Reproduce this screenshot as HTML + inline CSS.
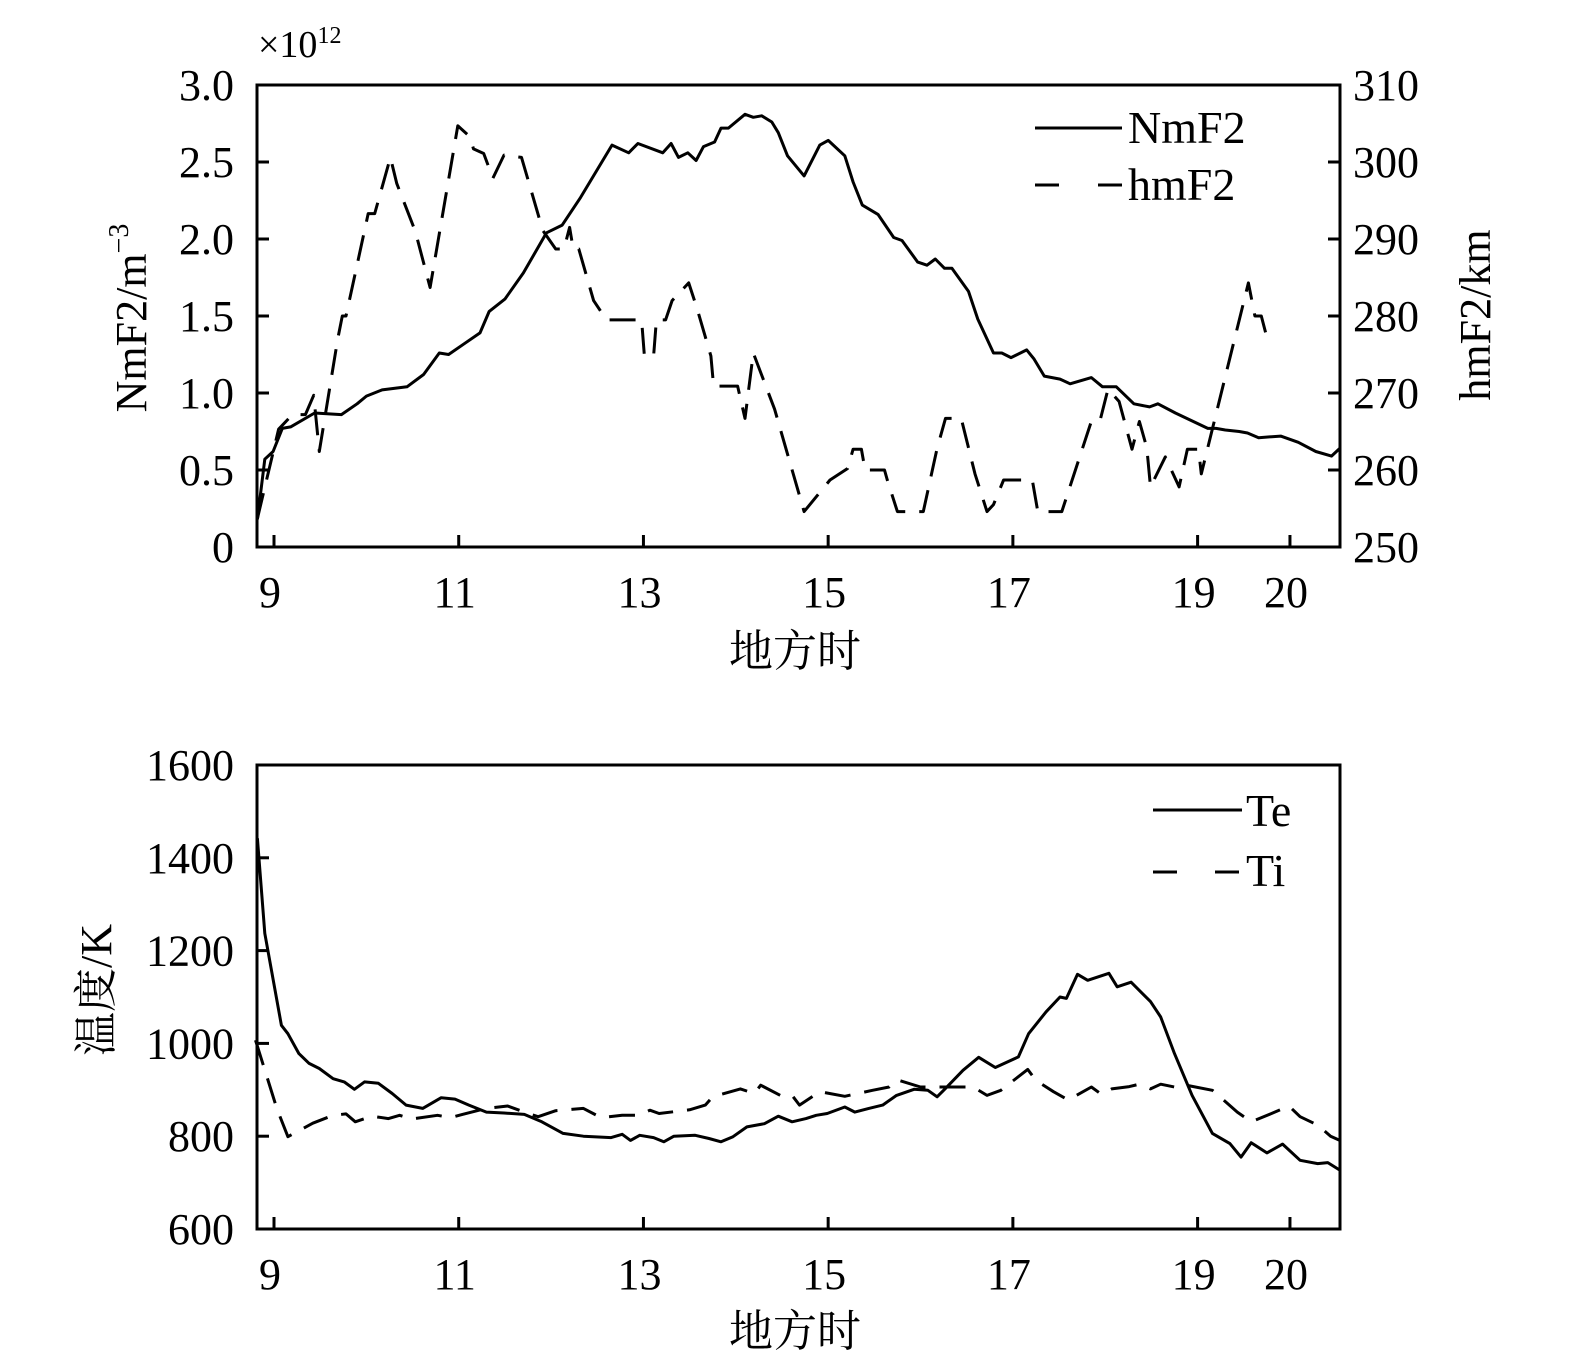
<!DOCTYPE html>
<html><head><meta charset="utf-8"><style>
html,body{margin:0;padding:0;background:#fff;}
svg{display:block;font-family:"Liberation Serif","Noto Serif CJK SC",serif;}
</style></head><body>
<svg id="fig" width="1575" height="1369" viewBox="0 0 1575 1369" xmlns="http://www.w3.org/2000/svg">
<g id="topChart"></g>
<g id="botChart"></g>
</svg>
<script>
const xTicks = [9, 11, 13, 15, 17, 19, 20];
const nmTicks = [0, 0.5, 1.0, 1.5, 2.0, 2.5, 3.0];
const nmTickLabels = ["0", "0.5", "1.0", "1.5", "2.0", "2.5", "3.0"];
const hmTicks = [250, 260, 270, 280, 290, 300, 310];
const tTicks = [600, 800, 1000, 1200, 1400, 1600];

const nmHours = [8.82,8.90,8.99,9.09,9.18,9.44,9.73,9.90,10.00,10.17,10.44,10.62,10.79,10.89,11.06,11.23,11.33,11.50,11.70,11.95,12.12,12.32,12.66,12.84,12.94,13.21,13.30,13.38,13.48,13.57,13.65,13.77,13.84,13.92,14.10,14.19,14.28,14.39,14.46,14.56,14.74,14.91,15.00,15.18,15.27,15.37,15.54,15.71,15.80,15.97,16.07,16.16,16.26,16.34,16.52,16.62,16.79,16.88,16.98,17.15,17.23,17.34,17.51,17.62,17.85,17.97,18.12,18.31,18.48,18.57,18.76,19.11,19.20,19.30,19.45,19.54,19.66,19.90,20.09,20.28,20.45,20.54];
const nmValues = [0.18,0.57,0.62,0.77,0.78,0.87,0.86,0.93,0.98,1.02,1.04,1.12,1.26,1.25,1.32,1.39,1.53,1.61,1.78,2.04,2.09,2.27,2.61,2.56,2.62,2.56,2.62,2.53,2.56,2.51,2.60,2.63,2.72,2.72,2.81,2.79,2.80,2.76,2.69,2.54,2.41,2.61,2.64,2.54,2.37,2.22,2.16,2.01,1.99,1.85,1.83,1.87,1.81,1.81,1.66,1.48,1.26,1.26,1.23,1.28,1.22,1.11,1.09,1.06,1.10,1.04,1.04,0.93,0.91,0.93,0.87,0.77,0.77,0.76,0.75,0.74,0.71,0.72,0.68,0.62,0.59,0.64];

const hmHours = [8.82,9.05,9.20,9.34,9.43,9.49,9.69,9.74,9.78,10.02,10.09,10.26,10.33,10.53,10.69,10.99,11.12,11.16,11.27,11.37,11.49,11.68,11.91,12.05,12.14,12.20,12.24,12.30,12.46,12.60,12.98,13.01,13.11,13.14,13.24,13.31,13.49,13.58,13.73,13.76,14.02,14.10,14.19,14.42,14.74,15.02,15.21,15.27,15.36,15.40,15.61,15.64,15.75,16.03,16.18,16.27,16.44,16.59,16.72,16.79,16.90,17.21,17.27,17.53,17.86,17.95,18.03,18.15,18.29,18.37,18.45,18.49,18.65,18.80,18.89,19.01,19.04,19.55,19.62,19.69,19.74];
const hmValues = [253.7,265.3,267.2,267.2,269.7,262.4,277.0,280.0,280.0,293.3,293.3,300.6,297.2,291.0,283.7,304.7,303.3,301.7,301.1,297.9,300.9,300.6,291.1,288.7,288.7,291.5,288.7,288.7,282.0,279.5,279.5,274.8,274.8,279.5,279.5,282.0,284.3,281.0,274.8,270.9,270.9,266.7,275.2,267.9,254.6,258.7,260.2,262.7,262.7,260.0,260.0,258.7,254.6,254.6,262.8,266.7,266.7,259.5,254.6,255.5,258.7,258.7,254.6,254.6,266.7,266.7,270.5,268.9,262.7,266.3,262.9,257.8,261.7,257.8,262.7,262.7,259.5,284.3,280.0,280.0,277.7];

const teHours = [8.82,8.90,9.08,9.15,9.27,9.38,9.49,9.64,9.76,9.87,9.98,10.13,10.28,10.43,10.61,10.81,10.96,11.11,11.30,11.49,11.71,11.90,12.13,12.35,12.65,12.77,12.86,12.96,13.11,13.22,13.33,13.56,13.71,13.84,13.97,14.12,14.31,14.46,14.61,14.76,14.87,14.99,15.18,15.29,15.44,15.59,15.74,15.93,16.08,16.18,16.27,16.46,16.63,16.81,17.06,17.17,17.36,17.51,17.58,17.70,17.81,18.04,18.13,18.28,18.49,18.60,18.75,18.94,19.16,19.35,19.47,19.58,19.75,19.92,20.11,20.30,20.41,20.54];
const teValues = [1442,1237,1039,1021,978,957,946,924,917,901,917,914,892,867,860,883,880,867,852,850,847,831,806,800,797,804,791,802,797,788,800,802,795,788,799,820,827,843,831,838,845,849,863,852,860,867,888,901,899,885,903,942,970,948,971,1021,1068,1100,1097,1149,1136,1151,1122,1132,1090,1057,978,888,806,784,755,786,764,783,748,741,743,727];

const tiHours = [8.80,9.03,9.15,9.42,9.64,9.78,9.88,10.06,10.24,10.36,10.49,10.77,10.91,11.04,11.30,11.53,11.71,11.86,12.05,12.35,12.54,12.77,12.96,13.07,13.17,13.50,13.67,13.75,14.05,14.20,14.27,14.50,14.61,14.69,14.91,15.18,15.48,15.66,15.74,16.00,16.27,16.57,16.72,16.87,17.16,17.25,17.44,17.60,17.85,17.96,18.07,18.26,18.37,18.49,18.60,18.75,18.90,19.16,19.43,19.58,19.80,19.99,20.11,20.30,20.44,20.54];
const tiValues = [1007,860,799,828,845,848,831,843,838,845,837,845,840,847,860,865,852,842,855,860,840,845,845,856,849,857,867,885,902,892,910,886,888,867,896,886,899,906,922,906,906,906,888,899,944,920,896,878,906,890,902,907,912,902,912,906,909,899,852,831,849,865,842,824,800,791];

const NS = "http://www.w3.org/2000/svg";
const L = 257, R = 1340;
function xs(h){ return 274 + (h - 9) * 92.36; }
function yNm(v){ return 547 - v / 3 * 462; }
function yHm(v){ return 547 - (v - 250) / 60 * 462; }
function yT(v){ return 1229 - (v - 600) / 1000 * 464; }

function mk(parent, tag, attrs, text){
  const el = document.createElementNS(NS, tag);
  for (const k in attrs) el.setAttribute(k, attrs[k]);
  if (text !== undefined) el.textContent = text;
  parent.appendChild(el);
  return el;
}
function path(parent, hs, vs, yf, dash, name){
  let d = "";
  for (let i = 0; i < hs.length; i++) d += (i ? "L" : "M") + xs(hs[i]).toFixed(1) + " " + yf(vs[i]).toFixed(1);
  const p = mk(parent, "path", {d: d, fill: "none", stroke: "#000", "stroke-width": 3, "stroke-linejoin": "round"});
  if (dash) p.setAttribute("stroke-dasharray", dash);
  
  
  return p;
}

function frame(g, y0, y1, name, xTitleY){
  const r = mk(g, "rect", {x: L, y: y0, width: R - L, height: y1 - y0, fill: "none", stroke: "#000", "stroke-width": 3});
  
  
  xTicks.forEach(h => {
    const t = mk(g, "line", {x1: xs(h), x2: xs(h), y1: y1, y2: y1 - 12, stroke: "#000", "stroke-width": 3});
    
    
    const lb = mk(g, "text", {x: xs(h) - 4, y: y1 + 60, "font-size": 44, "text-anchor": "middle"}, String(h));
    
    
  });
  const xt = mk(g, "text", {x: 795, y: xTitleY, "font-size": 44, "text-anchor": "middle"}, "地方时");
  
  
}

const topG = document.getElementById("topChart");
frame(topG, 85, 547, "top-plot-frame", 666);
nmTicks.forEach((v, i) => {
  const t = mk(topG, "line", {x1: L, x2: L + 12, y1: yNm(v), y2: yNm(v), stroke: "#000", "stroke-width": 3});
  
  
  const lb = mk(topG, "text", {x: 234, y: yNm(v) + 15, "font-size": 44, "text-anchor": "end"}, nmTickLabels[i]);
  
  
});
hmTicks.forEach(v => {
  const t = mk(topG, "line", {x1: R, x2: R - 12, y1: yHm(v), y2: yHm(v), stroke: "#000", "stroke-width": 3});
  
  
  const lb = mk(topG, "text", {x: 1353, y: yHm(v) + 15, "font-size": 44}, String(v));
  
  
});
const sc = mk(topG, "text", {x: 258, y: 57, "font-size": 38});


sc.innerHTML = '×10<tspan font-size="24" dy="-14">12</tspan>';
const yl = mk(topG, "text", {x: 0, y: 0, "font-size": 44, "text-anchor": "middle", transform: "translate(146 318) rotate(-90)"});


yl.innerHTML = 'NmF2/m<tspan font-size="28" dy="-18">−3</tspan>';
const yr = mk(topG, "text", {x: 0, y: 0, "font-size": 44, "text-anchor": "middle", transform: "translate(1490 315) rotate(-90)"}, "hmF2/km");


path(topG, nmHours, nmValues, yNm, null, "nmf2-line");
path(topG, hmHours, hmValues, yHm, "26 14", "hmf2-line");
let lg = mk(topG, "g", {});


let e = mk(lg, "line", {x1: 1035, x2: 1122, y1: 128, y2: 128, stroke: "#000", "stroke-width": 3});
 
e = mk(lg, "text", {x: 1128, y: 143, "font-size": 46}, "NmF2");
 
e = mk(lg, "line", {x1: 1035, x2: 1122, y1: 185, y2: 185, stroke: "#000", "stroke-width": 3, "stroke-dasharray": "24 39"});
 
e = mk(lg, "text", {x: 1128, y: 200, "font-size": 46}, "hmF2");
 

const botG = document.getElementById("botChart");
frame(botG, 765, 1229, "bottom-plot-frame", 1346);
tTicks.forEach(v => {
  const t = mk(botG, "line", {x1: L, x2: L + 12, y1: yT(v), y2: yT(v), stroke: "#000", "stroke-width": 3});
  
  
  const lb = mk(botG, "text", {x: 234, y: yT(v) + 15, "font-size": 44, "text-anchor": "end"}, String(v));
  
  
});
const yb = mk(botG, "text", {x: 0, y: 0, "font-size": 44, "text-anchor": "middle", transform: "translate(111 990) rotate(-90)"}, "温度/K");


path(botG, teHours, teValues, yT, null, "te-line");
path(botG, tiHours, tiValues, yT, "26 14", "ti-line");
lg = mk(botG, "g", {});


e = mk(lg, "line", {x1: 1153, x2: 1242, y1: 810, y2: 810, stroke: "#000", "stroke-width": 3});
 
e = mk(lg, "text", {x: 1246, y: 826, "font-size": 46}, "Te");
 
e = mk(lg, "line", {x1: 1153, x2: 1242, y1: 872, y2: 872, stroke: "#000", "stroke-width": 3, "stroke-dasharray": "24 38"});
 
e = mk(lg, "text", {x: 1246, y: 886, "font-size": 46}, "Ti");
 
</script>
</body></html>
